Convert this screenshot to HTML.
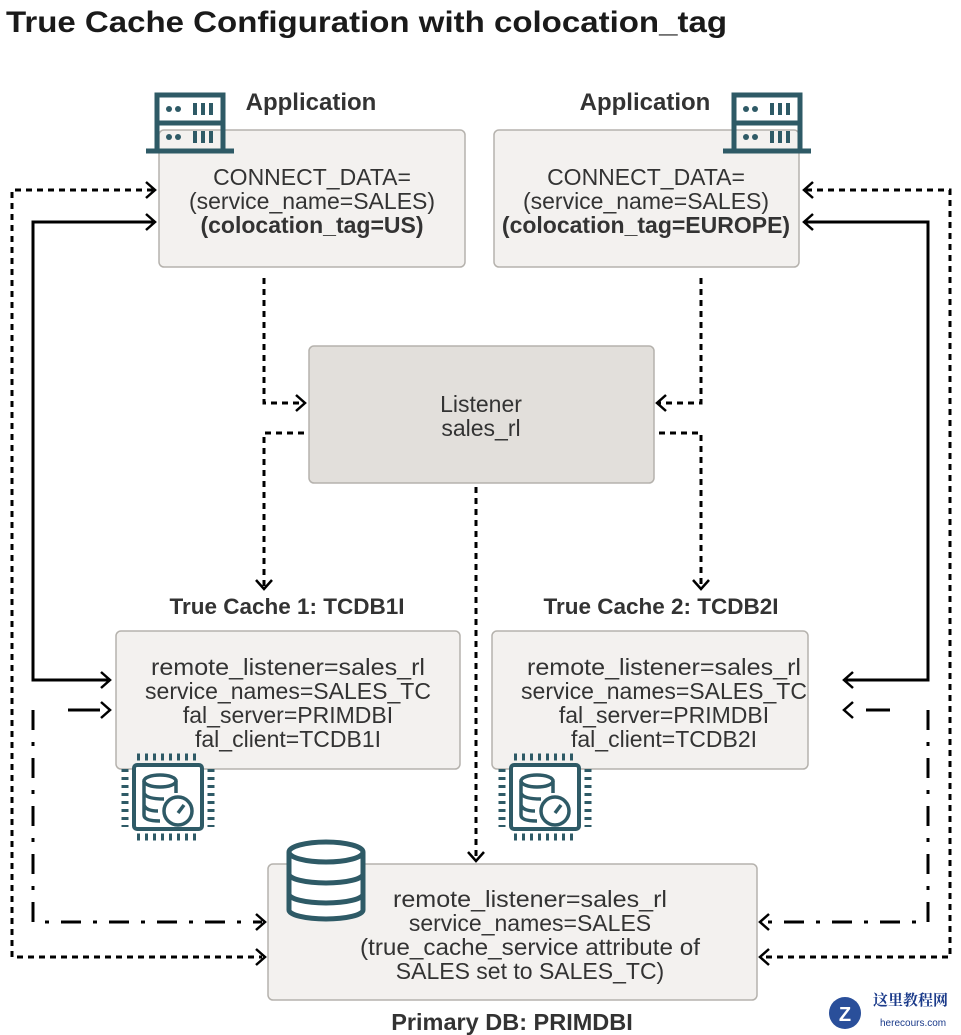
<!DOCTYPE html>
<html><head><meta charset="utf-8"><style>
html,body{margin:0;padding:0;background:#fff;}
svg{display:block;}
text{font-family:"Liberation Sans",sans-serif;fill:#333;}
.t{font-size:23px;text-anchor:middle;}
.b{font-weight:bold;}
</style></head><body>
<svg width="961" height="1035" viewBox="0 0 961 1035" xmlns="http://www.w3.org/2000/svg">
<defs>
<g id="chip">
  <g stroke="#2e5a66" stroke-width="7" stroke-dasharray="3,5">
    <line x1="3" y1="-8" x2="66" y2="-8"/><line x1="3" y1="72" x2="66" y2="72"/>
    <line x1="-9" y1="4" x2="-9" y2="62"/>
    <line x1="77" y1="4" x2="77" y2="62"/>
  </g>
  <rect x="0" y="0" width="68" height="64" rx="3" fill="#fff" stroke="#2e5a66" stroke-width="4"/>
  <g fill="none" stroke="#2e5a66" stroke-width="3.5">
    <ellipse cx="26" cy="16" rx="16" ry="6"/>
    <path d="M10 16 V50 Q10 56 26 56 M10 28 Q12 34 30 34 M10 40 Q12 46 24 46 M42 16 V28"/>
    <circle cx="44" cy="46" r="14" fill="#fff"/>
    <line x1="44" y1="48" x2="50" y2="40"/>
  </g>
</g>
<g id="srv" fill="none" stroke="#2e5a66">
  <rect x="11" y="2" width="66" height="56" stroke-width="5"/>
  <line x1="11" y1="30" x2="77" y2="30" stroke-width="5"/>
  <line x1="0" y1="58" x2="88" y2="58" stroke-width="5"/>
  <g fill="#2e5a66" stroke="none">
    <circle cx="23" cy="16" r="3"/><circle cx="32" cy="16" r="3"/>
    <circle cx="23" cy="44" r="3"/><circle cx="32" cy="44" r="3"/>
    <rect x="47" y="10" width="4" height="12"/><rect x="55" y="10" width="4" height="12"/><rect x="63" y="10" width="4" height="12"/>
    <rect x="47" y="38" width="4" height="12"/><rect x="55" y="38" width="4" height="12"/><rect x="63" y="38" width="4" height="12"/>
  </g>
</g>
</defs>

<text x="6" y="32" font-size="30" font-weight="bold" textLength="721" lengthAdjust="spacingAndGlyphs" style="fill:#1a1a1a">True Cache Configuration with colocation_tag</text>

<g stroke="#b5b2ad" stroke-width="1.5" fill="#f3f1ef">
  <rect x="159" y="130" width="306" height="137" rx="5"/>
  <rect x="494" y="130" width="305" height="137" rx="5"/>
  <rect x="309" y="346" width="345" height="137" rx="5" fill="#e2dfdb"/>
  <rect x="116" y="631" width="344" height="138" rx="5"/>
  <rect x="492" y="631" width="316" height="138" rx="5"/>
  <rect x="268" y="864" width="489" height="136" rx="5"/>
</g>

<use href="#srv" x="146" y="93"/>
<use href="#srv" x="723" y="93"/>
<use href="#chip" x="134" y="765"/>
<use href="#chip" x="511" y="765"/>
<g fill="#fff" stroke="#2e5a66" stroke-width="5">
  <path d="M289 852 V910 A37 9 0 0 0 363 910 V852"/>
  <ellipse cx="326" cy="852" rx="37" ry="10"/>
  <path d="M289 874 A37 9 0 0 0 363 874 M289 894 A37 9 0 0 0 363 894" fill="none"/>
</g>

<text x="311" y="110" font-size="24" class="b" text-anchor="middle">Application</text>
<text x="645" y="110" font-size="24" class="b" text-anchor="middle">Application</text>
<text class="t" x="312" y="185">CONNECT_DATA=</text>
<text class="t" x="312" y="209">(service_name=SALES)</text>
<text class="t b" x="312" y="233">(colocation_tag=US)</text>
<text class="t" x="646" y="185">CONNECT_DATA=</text>
<text class="t" x="646" y="209">(service_name=SALES)</text>
<text class="t b" x="646" y="233">(colocation_tag=EUROPE)</text>
<text class="t" x="481" y="412">Listener</text>
<text class="t" x="481" y="436">sales_rl</text>
<text x="287" y="614" font-size="22.5" class="b" text-anchor="middle">True Cache 1: TCDB1I</text>
<text x="661" y="614" font-size="22.5" class="b" text-anchor="middle">True Cache 2: TCDB2I</text>
<text class="t" x="288" y="675" textLength="274" lengthAdjust="spacingAndGlyphs">remote_listener=sales_rl</text>
<text class="t" x="288" y="699" textLength="286" lengthAdjust="spacingAndGlyphs">service_names=SALES_TC</text>
<text class="t" x="288" y="723">fal_server=PRIMDBI</text>
<text class="t" x="288" y="747">fal_client=TCDB1I</text>
<text class="t" x="664" y="675" textLength="274" lengthAdjust="spacingAndGlyphs">remote_listener=sales_rl</text>
<text class="t" x="664" y="699" textLength="286" lengthAdjust="spacingAndGlyphs">service_names=SALES_TC</text>
<text class="t" x="664" y="723">fal_server=PRIMDBI</text>
<text class="t" x="664" y="747">fal_client=TCDB2I</text>
<text class="t" x="530" y="907" textLength="274" lengthAdjust="spacingAndGlyphs">remote_listener=sales_rl</text>
<text class="t" x="530" y="931">service_names=SALES</text>
<text class="t" x="530" y="955" textLength="340" lengthAdjust="spacingAndGlyphs">(true_cache_service attribute of</text>
<text class="t" x="530" y="979">SALES set to SALES_TC)</text>
<text x="512" y="1030" font-size="23.5" class="b" text-anchor="middle">Primary DB: PRIMDBI</text>

<g fill="none" stroke="#000" stroke-width="3">
  <g stroke-dasharray="6,5">
    <path d="M264 278 V403 H303"/>
    <path d="M701 278 V403 H659"/>
    <path d="M304 433 H264 V586"/>
    <path d="M659 433 H701 V586"/>
    <path d="M476 487 V858"/>
    <path d="M153 190 H12 V957 H262"/>
    <path d="M806 190 H950 V957 H764"/>
  </g>
  <path d="M153 222 H33 V680 H108"/>
  <path d="M806 222 H928 V680 H846"/>
  <g stroke-dasharray="20,12,4,12">
    <path d="M33 710 V922 H262"/>
    <path d="M928 710 V922 H764"/>
  </g>
  <path d="M68 710 H100"/>
  <path d="M866 710 H890"/>
  <g stroke-width="2.5">
    <path d="M146 182 L155 190 L146 198 M146 214 L155 222 L146 230"/>
    <path d="M813 182 L804 190 L813 198 M813 214 L804 222 L813 230"/>
    <path d="M296 395 L305 403 L296 411 M666 395 L657 403 L666 411"/>
    <path d="M256 580 L264 589 L272 580 M693 580 L701 589 L709 580"/>
    <path d="M468 852 L476 861 L484 852"/>
    <path d="M101 672 L110 680 L101 688 M101 702 L110 710 L101 718"/>
    <path d="M853 672 L844 680 L853 688 M853 702 L844 710 L853 718"/>
    <path d="M256 914 L265 922 L256 930 M256 949 L265 957 L256 965"/>
    <path d="M769 914 L760 922 L769 930 M769 949 L760 957 L769 965"/>
  </g>
</g>

<circle cx="845" cy="1013" r="16" fill="#2a4f9a"/>
<text x="845" y="1021" font-size="20" class="b" text-anchor="middle" style="fill:#fff">Z</text>
<text x="873" y="1005" font-size="15" class="b" style="fill:#1a3a8a;font-family:'Noto Serif CJK SC',serif">这里教程网</text>
<text x="880" y="1026" font-size="10" style="fill:#1a3a8a">herecours.com</text>
</svg>
</body></html>
